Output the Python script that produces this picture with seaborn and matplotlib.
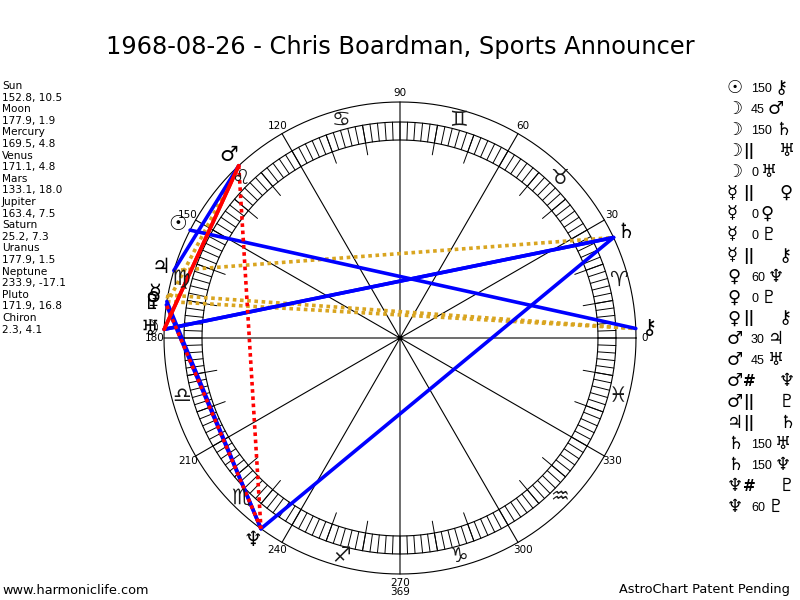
import numpy as np
import pandas as pd
import matplotlib
matplotlib.use('Agg')
import matplotlib.pyplot as plt
import seaborn as sns

title = '1968-08-26 - Chris Boardman, Sports Announcer'

planets = ['Sun', 'Moon', 'Mercury', 'Venus', 'Mars', 'Jupiter', 'Saturn',
           'Uranus', 'Neptune', 'Pluto', 'Chiron']
longitude = [152.8, 177.9, 169.5, 171.1, 133.1, 163.4, 25.2, 177.9, 233.9, 171.9, 2.3]
declination = [10.5, 1.9, 4.8, 4.8, 18.0, 7.5, 7.3, 1.5, -17.1, 16.8, 4.1]
glyphs = ['☉', '☽', '☿', '♀', '♂', '♃', '♄', '♅', '♆', '♇', '⚷']

signs = ['♈', '♉', '♊', '♋', '♌', '♍', '♎', '♏', '♐', '♑', '♒', '♓']

aspect_from = ['Sun', 'Moon', 'Moon', 'Moon', 'Moon', 'Mercury', 'Mercury', 'Mercury',
               'Mercury', 'Venus', 'Venus', 'Venus', 'Mars', 'Mars', 'Mars', 'Mars',
               'Jupiter', 'Saturn', 'Saturn', 'Neptune', 'Neptune']
aspect_type = ['150', '45', '150', '||', '0', '||', '0', '0', '||', '60', '0', '||',
               '30', '45', '#', '||', '||', '150', '150', '#', '60']
aspect_to = ['Chiron', 'Mars', 'Saturn', 'Uranus', 'Uranus', 'Venus', 'Venus', 'Pluto',
             'Chiron', 'Neptune', 'Pluto', 'Chiron', 'Jupiter', 'Uranus', 'Neptune',
             'Pluto', 'Saturn', 'Uranus', 'Neptune', 'Pluto', 'Pluto']

# chart geometry in pixels
cx, cy = 400, 338
r_out, r_band_out, r_band_in, r_tick = 236, 216, 198, 186


def pos(lon, r):
    a = np.radians(lon)
    return cx + r * np.cos(a), cy - r * np.sin(a)


sns.set_theme(style='white')
plt.rcParams['font.family'] = ['DejaVu Sans']
plt.rcParams['text.color'] = 'black'

fig = plt.figure(figsize=(8, 6), dpi=100)
ax = fig.add_axes([0, 0, 1, 1])

# circles
t = np.linspace(0, 360, 721)
for r in [r_out, r_band_out, r_band_in]:
    x, y = pos(t, r)
    ax.plot(x, y, color='black', lw=0.8)


def radial(angles, r1, r2, lw):
    xs, ys = [], []
    for a in angles:
        x1, y1 = pos(a, r1)
        x2, y2 = pos(a, r2)
        xs += [x1, x2, np.nan]
        ys += [y1, y2, np.nan]
    ax.plot(xs, ys, color='black', lw=lw)


radial(np.arange(0, 360, 2), r_band_in, r_band_out, 0.7)
radial([a for a in range(0, 360, 10) if a % 30], r_tick, r_band_out, 0.7)
radial(range(0, 360, 30), 0, r_out, 0.8)

# degree labels
for a in range(0, 360, 30):
    x, y = pos(a, 245)
    ax.text(x, y, str(a), ha='center', va='center', fontsize=7.5)
ax.text(cx, 592, '369', ha='center', va='center', fontsize=7.5)

# zodiac signs
for i, s in enumerate(signs):
    x, y = pos(15 + 30 * i, 226)
    ax.text(x, y, s, ha='center', va='center', fontsize=15, color='#1a1a1a')

# aspect lines
kind_of = {'150': 'blue', '60': 'blue', '30': 'blue', '45': 'red', '||': 'par', '#': 'contra'}
lon_of = dict(zip(planets, longitude))
rows = []
for k, (p1, asp, p2) in enumerate(zip(aspect_from, aspect_type, aspect_to)):
    if asp not in kind_of:
        continue
    for p in (p1, p2):
        x, y = pos(lon_of[p], r_out)
        rows.append({'id': k, 'kind': kind_of[asp], 'x': x, 'y': y})
lines = pd.DataFrame(rows)
order = ['par', 'blue', 'red', 'contra']
sns.lineplot(data=lines, x='x', y='y', units='id', estimator=None, sort=False,
             hue='kind', hue_order=order, style='kind', style_order=order,
             palette={'par': '#d9a520', 'blue': '#0000ff', 'red': '#ff0000', 'contra': '#ff0000'},
             dashes={'par': (1, 1), 'blue': '', 'red': '', 'contra': (1, 1)},
             lw=2.6, legend=False, ax=ax)
ax.set_xlim(0, 800)
ax.set_ylim(600, 0)
ax.axis('off')

# planet glyphs around the wheel
for g, lon in zip(glyphs, longitude):
    x, y = pos(lon, 250)
    ax.text(x, y, g, ha='center', va='center', fontsize=15, fontweight='bold')

# title
ax.text(400, 47, title, ha='center', va='center', fontsize=17.4)

# left column: positions
for i, (p, lon, dec) in enumerate(zip(planets, longitude, declination)):
    ax.text(2, 86 + 2 * i * 11.6, p, ha='left', va='center', fontsize=7.6)
    ax.text(2, 86 + (2 * i + 1) * 11.6, f'{lon}, {dec}', ha='left', va='center', fontsize=7.6)

# right column: aspects
glyph_of = dict(zip(planets, glyphs))
for i, (p1, asp, p2) in enumerate(zip(aspect_from, aspect_type, aspect_to)):
    y = 88 + i * 20.95
    ax.text(727, y, glyph_of[p1], ha='left', va='center', fontsize=13, fontweight='bold')
    if asp in ('||', '#'):
        ax.text(743, y, asp, ha='left', va='center', fontsize=11, fontweight='bold')
        ax.text(779, y, glyph_of[p2], ha='left', va='center', fontsize=13)
    else:
        ax.text(751, y + 1, asp, ha='left', va='center', fontsize=9,
                family='Liberation Sans')
        x2 = 751 + 6.9 * len(asp) + 3
        ax.text(x2, y, glyph_of[p2], ha='left', va='center', fontsize=13)

# footer
ax.text(2, 590, 'www.harmoniclife.com', ha='left', va='center', fontsize=9.3)
ax.text(790, 590, 'AstroChart Patent Pending', ha='right', va='center', fontsize=9.3)

fig.savefig('out.png', dpi=100)
